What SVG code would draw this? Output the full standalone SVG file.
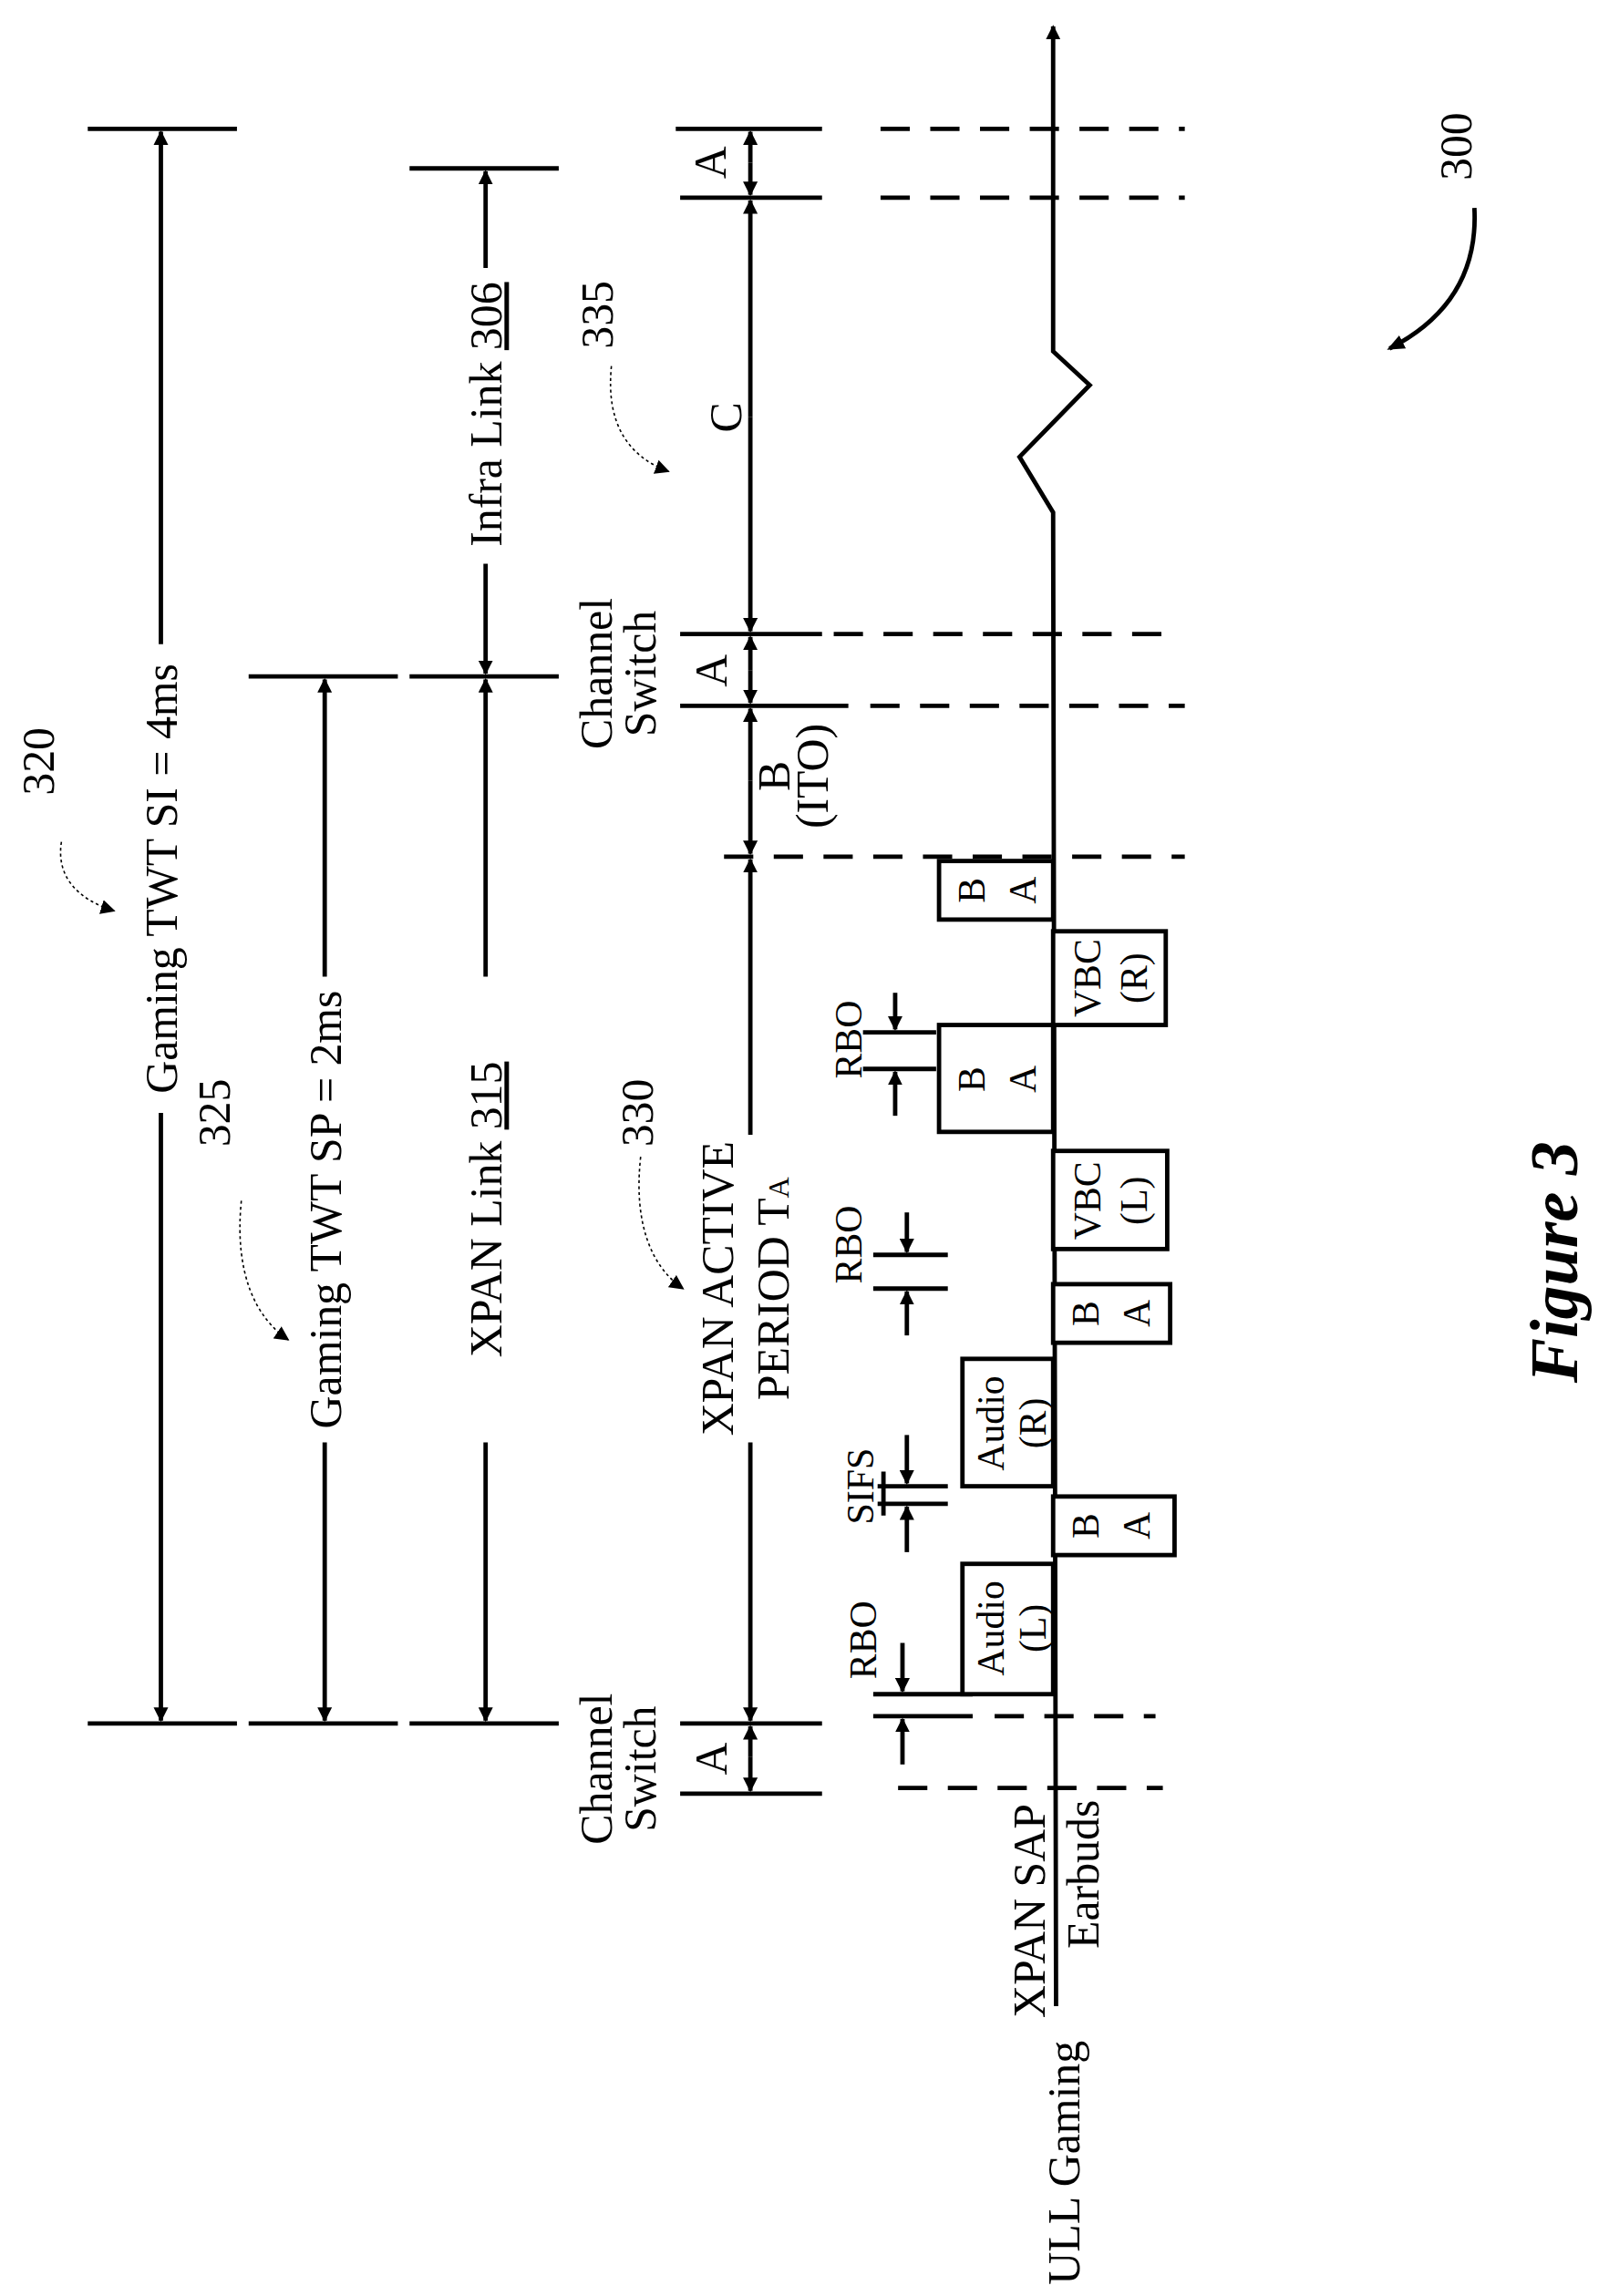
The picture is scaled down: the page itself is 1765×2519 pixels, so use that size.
<svg xmlns="http://www.w3.org/2000/svg" width="1765" height="2519" viewBox="0 0 1765 2519">
<style>
.l{stroke:#000;stroke-width:3;fill:none}
.d{stroke:#000;stroke-width:3;fill:none;stroke-dasharray:20,14}
.dt{stroke:#000;stroke-width:1;fill:none;stroke-dasharray:2,2}
.b{stroke:#000;stroke-width:3;fill:#fff}
text{font-family:"Liberation Serif",serif;font-size:31px;text-anchor:middle}
.s{font-size:26px}
</style>
<defs>
<marker id="ah" markerWidth="10" markerHeight="10" refX="9" refY="5" orient="auto" markerUnits="userSpaceOnUse" viewBox="0 0 10 10"><path d="M0,0 L10,5 L0,10 z"/></marker>
<marker id="ah2" markerWidth="12" markerHeight="12" refX="10" refY="6" orient="auto" viewBox="0 0 12 12" markerUnits="userSpaceOnUse"><path d="M0,1 L12,6 L0,11 z"/></marker>
</defs>
<rect width="1765" height="2519" fill="#fff"/>
<g transform="scale(1.6045,1.6065)">
<g id="connectors">
<polyline class="l" points="722,1370 720,350 697,312 745,263 720,240 720,18" marker-end="url(#ah)"/>
<path class="l" d="M60,88H162 M280,115H382 M170,462H272 M280,462H382 M60,1177H162 M170,1177H272 M280,1177H382"/>
<path class="l" d="M462,88H562 M465,135H562 M465,433H562 M465,482H580 M465,1177H562 M465,1225H562"/>
<path class="d" d="M602,88H810 M602,135H810 M570,433H800 M595,482H810 M495,585H810 M680,1172H790 M614,1221H795"/>
<line class="l" x1="110" y1="440" x2="110" y2="90" marker-end="url(#ah)"/>
<line class="l" x1="110" y1="760" x2="110" y2="1175" marker-end="url(#ah)"/>
<line class="l" x1="332" y1="183" x2="332" y2="117" marker-end="url(#ah)"/>
<line class="l" x1="332" y1="385" x2="332" y2="460" marker-end="url(#ah)"/>
<line class="l" x1="222" y1="667" x2="222" y2="464" marker-end="url(#ah)"/>
<line class="l" x1="222" y1="985" x2="222" y2="1175" marker-end="url(#ah)"/>
<line class="l" x1="332" y1="667" x2="332" y2="464" marker-end="url(#ah)"/>
<line class="l" x1="332" y1="985" x2="332" y2="1175" marker-end="url(#ah)"/>
<line class="l" x1="513" y1="111" x2="513" y2="90" marker-end="url(#ah)"/>
<line class="l" x1="513" y1="111" x2="513" y2="133" marker-end="url(#ah)"/>
<line class="l" x1="513" y1="285" x2="513" y2="137" marker-end="url(#ah)"/>
<line class="l" x1="513" y1="285" x2="513" y2="431" marker-end="url(#ah)"/>
<line class="l" x1="513" y1="458" x2="513" y2="435" marker-end="url(#ah)"/>
<line class="l" x1="513" y1="458" x2="513" y2="480" marker-end="url(#ah)"/>
<line class="l" x1="513" y1="533" x2="513" y2="484" marker-end="url(#ah)"/>
<line class="l" x1="513" y1="533" x2="513" y2="583" marker-end="url(#ah)"/>
<line class="l" x1="513" y1="775" x2="513" y2="587" marker-end="url(#ah)"/>
<line class="l" x1="513" y1="985" x2="513" y2="1175" marker-end="url(#ah)"/>
<line class="l" x1="513" y1="1200" x2="513" y2="1179" marker-end="url(#ah)"/>
<line class="l" x1="513" y1="1200" x2="513" y2="1223" marker-end="url(#ah)"/>
<path class="l" d="M590,705H640 M590,730H640 M597,857H648 M597,880H648 M600,1015H648 M600,1027H648 M597,1157H665 M597,1172H665 M604,1005V1035"/>
<line class="l" x1="612" y1="678" x2="612" y2="703" marker-end="url(#ah)"/>
<line class="l" x1="612" y1="762" x2="612" y2="732" marker-end="url(#ah)"/>
<line class="l" x1="620" y1="828" x2="620" y2="855" marker-end="url(#ah)"/>
<line class="l" x1="620" y1="912" x2="620" y2="882" marker-end="url(#ah)"/>
<line class="l" x1="620" y1="980" x2="620" y2="1013" marker-end="url(#ah)"/>
<line class="l" x1="620" y1="1060" x2="620" y2="1029" marker-end="url(#ah)"/>
<line class="l" x1="617" y1="1122" x2="617" y2="1155" marker-end="url(#ah)"/>
<line class="l" x1="617" y1="1205" x2="617" y2="1174" marker-end="url(#ah)"/>
<path class="dt" d="M42,575 C38,600 55,615 78,622" marker-end="url(#ah)"/>
<path class="dt" d="M165,820 C160,870 175,900 197,915" marker-end="url(#ah)"/>
<path class="dt" d="M438,790 C433,835 445,865 467,880" marker-end="url(#ah)"/>
<path class="dt" d="M418,250 C414,290 430,312 457,322" marker-end="url(#ah)"/>
<path class="l" d="M1008,142 C1010,180 995,215 950,238" stroke-width="2" marker-end="url(#ah2)"/>
</g>
<g id="boxes">
<rect class="b" x="642" y="588" width="78" height="40"/>
<rect class="b" x="642" y="700" width="78" height="73"/>
<rect class="b" x="658" y="928" width="62" height="87"/>
<rect class="b" x="658" y="1068" width="62" height="89"/>
<rect class="b" x="720" y="636" width="77" height="64"/>
<rect class="b" x="720" y="786" width="78" height="67"/>
<rect class="b" x="720" y="877" width="80" height="40"/>
<rect class="b" x="720" y="1022" width="83" height="40"/>
</g>
<g id="labels">
<text transform="translate(121,600) rotate(-90)">Gaming TWT SI = 4ms</text>
<text transform="translate(343,283) rotate(-90)">Infra Link <tspan text-decoration="underline">306</tspan></text>
<text transform="translate(233,826) rotate(-90)">Gaming TWT SP = 2ms</text>
<text transform="translate(343,826) rotate(-90)">XPAN Link <tspan text-decoration="underline">315</tspan></text>
<text transform="translate(501,880) rotate(-90)">XPAN ACTIVE</text>
<text transform="translate(539,880) rotate(-90)">PERIOD T<tspan style="font-size:20px">A</tspan></text>
<text transform="translate(37,520) rotate(-90)">320</text>
<text transform="translate(157,760) rotate(-90)">325</text>
<text transform="translate(446,760) rotate(-90)">330</text>
<text transform="translate(419,215) rotate(-90)">335</text>
<text transform="translate(1006,100) rotate(-90)">300</text>
<text transform="translate(418,460) rotate(-90)">Channel</text>
<text transform="translate(448,460) rotate(-90)">Switch</text>
<text transform="translate(418,1208) rotate(-90)">Channel</text>
<text transform="translate(448,1208) rotate(-90)">Switch</text>
<text transform="translate(496,111) rotate(-90)">A</text>
<text transform="translate(507,285) rotate(-90)">C</text>
<text transform="translate(497,458) rotate(-90)">A</text>
<text transform="translate(497,1201) rotate(-90)">A</text>
<text transform="translate(540,530) rotate(-90)">B</text>
<text transform="translate(566,530) rotate(-90)">(ITO)</text>
<text class="s" transform="translate(589,710) rotate(-90)">RBO</text>
<text class="s" transform="translate(589,850) rotate(-90)">RBO</text>
<text class="s" transform="translate(597,1015) rotate(-90)">SIFS</text>
<text class="s" transform="translate(599,1120) rotate(-90)">RBO</text>
<text class="s" transform="translate(673,608) rotate(-90)">B</text>
<text class="s" transform="translate(708,608) rotate(-90)">A</text>
<text class="s" transform="translate(673,737) rotate(-90)">B</text>
<text class="s" transform="translate(708,737) rotate(-90)">A</text>
<text class="s" transform="translate(751,897) rotate(-90)">B</text>
<text class="s" transform="translate(786,897) rotate(-90)">A</text>
<text class="s" transform="translate(751,1042) rotate(-90)">B</text>
<text class="s" transform="translate(786,1042) rotate(-90)">A</text>
<text class="s" transform="translate(752,668) rotate(-90)">VBC</text>
<text class="s" transform="translate(784,668) rotate(-90)">(R)</text>
<text class="s" transform="translate(752,820) rotate(-90)">VBC</text>
<text class="s" transform="translate(784,820) rotate(-90)">(L)</text>
<text class="s" transform="translate(686,972) rotate(-90)">Audio</text>
<text class="s" transform="translate(715,972) rotate(-90)">(R)</text>
<text class="s" transform="translate(686,1112) rotate(-90)">Audio</text>
<text class="s" transform="translate(715,1112) rotate(-90)">(L)</text>
<text transform="translate(714,1305) rotate(-90)">XPAN SAP</text>
<text transform="translate(751,1280) rotate(-90)">Earbuds</text>
<text transform="translate(738,1477) rotate(-90)">ULL Gaming</text>
<text transform="translate(1078,862) rotate(-90)" style="font-size:46px;font-weight:bold;font-style:italic">Figure 3</text>
</g>
</g>
</svg>
